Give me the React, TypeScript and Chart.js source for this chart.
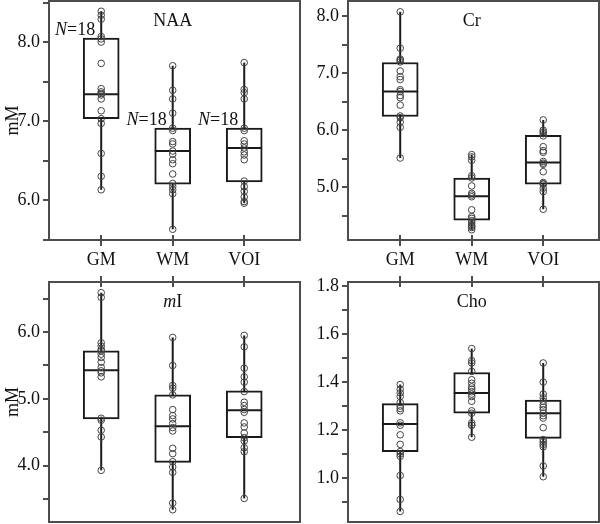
import React, { useEffect, useRef } from 'react';
import { Chart, registerables } from 'chart.js';
Chart.register(...registerables);

const groups = ['GM', 'WM', 'VOI'];
const sampleSizes = [18, 18, 18];

// NAA
const naaGM = [8.39, 8.34, 8.29, 8.07, 8.04, 8.0, 7.73, 7.41, 7.37, 7.35, 7.33, 7.28, 7.13, 7.03, 6.97, 6.59, 6.3, 6.13];
const naaWM = [7.7, 7.39, 7.28, 7.1, 6.91, 6.88, 6.74, 6.71, 6.62, 6.58, 6.51, 6.46, 6.33, 6.21, 6.17, 6.13, 6.08, 5.63];
const naaVOI = [7.74, 7.4, 7.36, 7.28, 6.91, 6.88, 6.75, 6.71, 6.66, 6.61, 6.57, 6.51, 6.24, 6.17, 6.11, 6.04, 5.98, 5.96];
const naaLow = [6.13, 5.63, 5.96];
const naaQ1 = [7.03, 6.2, 6.23];
const naaMedian = [7.34, 6.62, 6.66];
const naaQ3 = [8.05, 6.91, 6.91];
const naaHigh = [8.39, 7.7, 7.74];

// Cr
const crGM = [8.08, 7.44, 7.25, 7.23, 7.2, 7.04, 6.94, 6.89, 6.71, 6.68, 6.61, 6.57, 6.44, 6.25, 6.22, 6.14, 6.05, 5.51];
const crWM = [5.57, 5.53, 5.47, 5.2, 5.16, 5.02, 4.89, 4.86, 4.83, 4.6, 4.48, 4.45, 4.41, 4.37, 4.33, 4.31, 4.29, 4.25];
const crVOI = [6.18, 6.0, 5.97, 5.94, 5.9, 5.71, 5.64, 5.61, 5.45, 5.42, 5.4, 5.27, 5.08, 5.06, 5.05, 4.98, 4.92, 4.61];
const crLow = [5.51, 4.25, 4.61];
const crQ1 = [6.24, 4.42, 5.05];
const crMedian = [6.68, 4.84, 5.43];
const crQ3 = [7.19, 5.16, 5.91];
const crHigh = [8.08, 5.57, 6.18];

// mI
const miGM = [6.59, 6.52, 5.84, 5.79, 5.74, 5.72, 5.67, 5.62, 5.55, 5.47, 5.42, 5.39, 5.33, 4.71, 4.68, 4.53, 4.43, 3.93];
const miWM = [5.92, 5.5, 5.2, 5.16, 5.06, 4.84, 4.75, 4.7, 4.63, 4.57, 4.52, 4.26, 4.18, 4.06, 3.98, 3.9, 3.44, 3.34];
const miVOI = [5.95, 5.78, 5.46, 5.33, 5.25, 5.11, 4.95, 4.9, 4.84, 4.8, 4.64, 4.58, 4.49, 4.42, 4.37, 4.27, 4.21, 3.51];
const miLow = [3.93, 3.34, 3.51];
const miQ1 = [4.7, 4.05, 4.42];
const miMedian = [5.43, 4.59, 4.83];
const miQ3 = [5.72, 5.06, 5.12];
const miHigh = [6.59, 5.92, 5.95];

// Cho
const choGM = [1.39, 1.37, 1.355, 1.34, 1.315, 1.3, 1.29, 1.28, 1.23, 1.22, 1.18, 1.14, 1.11, 1.1, 1.09, 1.01, 0.91, 0.86];
const choWM = [1.54, 1.49, 1.48, 1.445, 1.41, 1.395, 1.38, 1.37, 1.36, 1.35, 1.34, 1.32, 1.28, 1.27, 1.23, 1.22, 1.22, 1.17];
const choVOI = [1.48, 1.4, 1.35, 1.335, 1.32, 1.305, 1.295, 1.285, 1.27, 1.26, 1.25, 1.21, 1.16, 1.15, 1.14, 1.13, 1.05, 1.005];
const choLow = [0.86, 1.17, 1.005];
const choQ1 = [1.11, 1.27, 1.165];
const choMedian = [1.225, 1.355, 1.27];
const choQ3 = [1.31, 1.44, 1.325];
const choHigh = [1.39, 1.54, 1.48];

const FONT = '"Liberation Serif", "Times New Roman", serif';
const INK = '#1a1a1a';
const FRAME = '#4d4d4d';

type TitlePart = { text: string; italic?: boolean };

type PanelCfg = {
  left: number; top: number; width: number; height: number;
  padding: { left: number; right: number; top: number; bottom: number };
  yWidth: number; xHeight: number; xPos: 'top' | 'bottom'; xLabels: boolean;
  yTitle: boolean; yMin: number; yMax: number; step: number; labelStep: number;
  title: TitlePart[];
  points: number[][]; low: number[]; q1: number[]; med: number[]; q3: number[]; high: number[];
  showN: boolean;
};

const drawParts = (ctx: CanvasRenderingContext2D, parts: TitlePart[], cx: number, y: number, align: 'center' | 'right') => {
  const widths = parts.map((p) => {
    ctx.font = `${p.italic ? 'italic ' : ''}18px ${FONT}`;
    return ctx.measureText(p.text).width;
  });
  const total = widths.reduce((a, b) => a + b, 0);
  let x = align === 'center' ? cx - total / 2 : cx - total;
  ctx.textAlign = 'left';
  ctx.textBaseline = 'alphabetic';
  ctx.fillStyle = '#111';
  parts.forEach((p, i) => {
    ctx.font = `${p.italic ? 'italic ' : ''}18px ${FONT}`;
    ctx.fillText(p.text, x, y);
    x += widths[i];
  });
};

const Panel = ({ cfg }: { cfg: PanelCfg }) => {
  const ref = useRef<HTMLCanvasElement>(null);
  useEffect(() => {
    if (!ref.current) return;
    const halfBox = 0.25;
    const datasets: any[] = [];
    datasets.push({
      type: 'scatter',
      data: cfg.points.flatMap((arr, i) => arr.map((v) => ({ x: i + 1, y: v }))),
      pointStyle: 'circle',
      pointRadius: 3.3,
      pointBorderWidth: 1,
      pointBorderColor: '#444',
      pointBackgroundColor: 'rgba(0,0,0,0)',
      showLine: false,
      order: 0,
    });
    groups.forEach((_, i) => {
      datasets.push({
        type: 'line',
        data: [{ x: i + 1 - halfBox, y: cfg.med[i] }, { x: i + 1 + halfBox, y: cfg.med[i] }],
        borderColor: INK, borderWidth: 2, pointRadius: 0, order: 1,
      });
    });
    datasets.push({
      type: 'bar',
      data: groups.map((_, i) => ({ x: i + 1, y: [cfg.q1[i], cfg.q3[i]] })),
      backgroundColor: '#ffffff',
      borderColor: INK,
      borderWidth: 2,
      borderSkipped: false,
      barThickness: 36,
      order: 2,
    });
    groups.forEach((_, i) => {
      datasets.push({
        type: 'line',
        data: [{ x: i + 1, y: cfg.low[i] }, { x: i + 1, y: cfg.high[i] }],
        borderColor: INK, borderWidth: 2, pointRadius: 0, order: 3,
      });
    });

    const decor = {
      id: 'decor',
      afterDatasetsDraw(chart: any) {
        const { ctx, chartArea: a, scales } = chart;
        const xs = scales.x, ys = scales.y;
        ctx.save();
        if (cfg.showN) {
          groups.forEach((_, i) => {
            const px = xs.getPixelForValue(i + 1) - 6;
            const py = ys.getPixelForValue(cfg.q3[i]) - 3;
            drawParts(ctx, [{ text: 'N', italic: true }, { text: '=' + sampleSizes[i] }], px, py, 'right');
          });
        }
        drawParts(ctx, cfg.title, xs.getPixelForValue(2), a.top + 25, 'center');
        ctx.strokeStyle = FRAME;
        ctx.lineWidth = 2;
        ctx.strokeRect(a.left, a.top, a.right - a.left, a.bottom - a.top);
        groups.forEach((_, i) => {
          const px = Math.round(xs.getPixelForValue(i + 1));
          ctx.beginPath();
          if (cfg.xPos === 'bottom') {
            ctx.moveTo(px, a.bottom); ctx.lineTo(px, a.bottom - 5);
          } else {
            ctx.moveTo(px, a.top); ctx.lineTo(px, a.top + 5);
          }
          ctx.stroke();
        });
        ctx.restore();
      },
    };

    const chart = new Chart(ref.current, {
      type: 'bar',
      data: { datasets },
      options: {
        animation: false,
        responsive: false,
        devicePixelRatio: 1,
        layout: { padding: cfg.padding, autoPadding: false },
        plugins: { legend: { display: false }, tooltip: { enabled: false } },
        scales: {
          x: {
            type: 'linear',
            position: cfg.xPos,
            min: 0.27,
            max: 3.78,
            offset: false,
            afterBuildTicks: (s: any) => { s.ticks = groups.map((_, i) => ({ value: i + 1 })); },
            afterFit: (s: any) => { s.height = cfg.xHeight; s.paddingLeft = 0; s.paddingRight = 0; },
            ticks: {
              display: cfg.xLabels,
              callback: (v: any) => groups[Math.round(v) - 1] ?? '',
              font: { family: FONT, size: 18 },
              color: '#111',
              padding: 3,
              maxRotation: 0,
              autoSkip: false,
            },
            grid: { drawOnChartArea: false, drawTicks: true, tickLength: 6, color: FRAME, lineWidth: 2, offset: false },
            border: { display: false },
          },
          y: {
            type: 'linear',
            min: cfg.yMin,
            max: cfg.yMax,
            afterFit: (s: any) => { s.width = cfg.yWidth; s.paddingTop = 0; s.paddingBottom = 0; },
            ticks: {
              stepSize: cfg.step,
              includeBounds: false,
              callback: (v: any) => {
                const r = v / cfg.labelStep;
                return Math.abs(r - Math.round(r)) < 1e-6 ? Number(v).toFixed(1) : '';
              },
              font: { family: FONT, size: 18 },
              color: '#111',
              padding: 3,
              autoSkip: false,
            },
            title: {
              display: cfg.yTitle,
              text: 'mM',
              font: { family: FONT, size: 18 },
              color: '#111',
              padding: { top: 2, bottom: 0 },
            },
            grid: { drawOnChartArea: false, drawTicks: true, tickLength: 6, color: FRAME, lineWidth: 2 },
            border: { display: false },
          },
        },
      },
      plugins: [decor],
    } as any);
    return () => chart.destroy();
  }, [cfg]);
  return (
    <canvas
      ref={ref}
      width={cfg.width}
      height={cfg.height}
      style={{ position: 'absolute', left: cfg.left, top: cfg.top, width: cfg.width, height: cfg.height }}
    />
  );
};

const panels: PanelCfg[] = [
  {
    left: 0, top: 0, width: 302, height: 275,
    padding: { left: 0, right: 2, top: 1, bottom: 0 },
    yWidth: 49, xHeight: 35, xPos: 'bottom', xLabels: true, yTitle: true,
    yMin: 5.494, yMax: 8.52, step: 0.5, labelStep: 1,
    title: [{ text: 'NAA' }],
    points: [naaGM, naaWM, naaVOI], low: naaLow, q1: naaQ1, med: naaMedian, q3: naaQ3, high: naaHigh,
    showN: true,
  },
  {
    left: 300, top: 0, width: 300, height: 275,
    padding: { left: 0, right: 1, top: 1, bottom: 0 },
    yWidth: 48, xHeight: 35, xPos: 'bottom', xLabels: true, yTitle: false,
    yMin: 4.07, yMax: 8.27, step: 0.5, labelStep: 1,
    title: [{ text: 'Cr' }],
    points: [crGM, crWM, crVOI], low: crLow, q1: crQ1, med: crMedian, q3: crQ3, high: crHigh,
    showN: false,
  },
  {
    left: 0, top: 270, width: 302, height: 254,
    padding: { left: 0, right: 2, top: 0, bottom: 2 },
    yWidth: 49, xHeight: 12, xPos: 'top', xLabels: false, yTitle: true,
    yMin: 3.157, yMax: 6.75, step: 0.5, labelStep: 1,
    title: [{ text: 'm', italic: true }, { text: 'I' }],
    points: [miGM, miWM, miVOI], low: miLow, q1: miQ1, med: miMedian, q3: miQ3, high: miHigh,
    showN: false,
  },
  {
    left: 300, top: 270, width: 300, height: 254,
    padding: { left: 0, right: 1, top: 0, bottom: 2 },
    yWidth: 48, xHeight: 12, xPos: 'top', xLabels: false, yTitle: false,
    yMin: 0.816, yMax: 1.818, step: 0.1, labelStep: 0.2,
    title: [{ text: 'Cho' }],
    points: [choGM, choWM, choVOI], low: choLow, q1: choQ1, med: choMedian, q3: choQ3, high: choHigh,
    showN: false,
  },
];

export default function App() {
  return (
    <div style={{ position: 'fixed', left: 0, top: 0, width: 600, height: 524, background: '#fff', overflow: 'hidden' }}>
      {panels.map((p, i) => (
        <Panel key={i} cfg={p} />
      ))}
    </div>
  );
}
